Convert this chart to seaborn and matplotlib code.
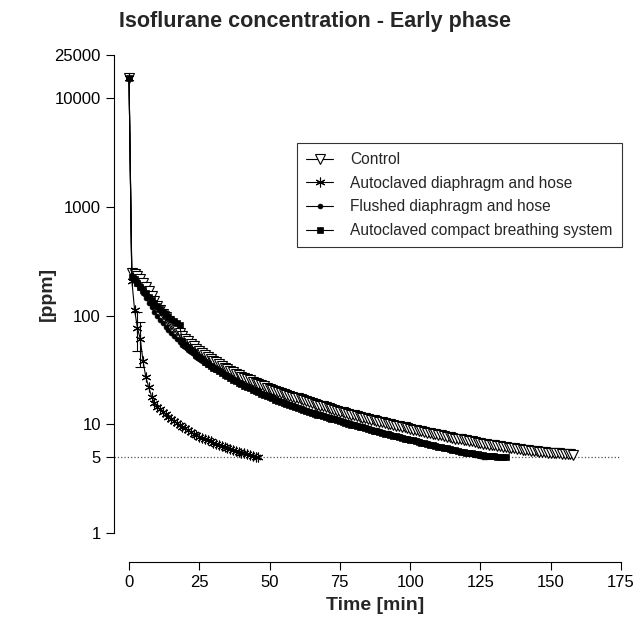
import numpy as np
import pandas as pd
import matplotlib
matplotlib.use("Agg")
import matplotlib.pyplot as plt
import seaborn as sns
from matplotlib.ticker import NullLocator

# Isoflurane concentration [ppm], one reading per minute
control = [15500,
           245, 240, 230, 215, 200, 183, 167, 150, 135, 122,
           112, 104, 97, 90, 84, 79, 74, 69, 65, 61,
           58, 55, 52, 49.5, 47, 45, 43.2, 41.5, 40, 38.5,
           37.1, 35.8, 34.5, 33.3, 32.1, 31, 30, 29.1, 28.3, 27.5,
           26.8, 26.1, 25.4, 24.7, 24, 23.4, 22.9, 22.3, 21.8, 21.3,
           20.9, 20.4, 20, 19.6, 19.2, 18.8, 18.4, 18, 17.6, 17.3,
           17, 16.7, 16.3, 16, 15.7, 15.4, 15.1, 14.8, 14.6, 14.3,
           14.1, 13.8, 13.6, 13.3, 13.1, 12.9, 12.7, 12.5, 12.3, 12.1,
           11.9, 11.7, 11.5, 11.4, 11.2, 11, 10.9, 10.7, 10.6, 10.4,
           10.3, 10.1, 10, 9.85, 9.7, 9.6, 9.45, 9.35, 9.2, 9.1,
           8.95, 8.85, 8.75, 8.6, 8.5, 8.4, 8.3, 8.2, 8.1, 8.0,
           7.9, 7.8, 7.7, 7.6, 7.5, 7.4, 7.35, 7.25, 7.15, 7.1,
           7.0, 6.95, 6.85, 6.8, 6.75, 6.65, 6.6, 6.5, 6.45, 6.4,
           6.35, 6.3, 6.2, 6.15, 6.1, 6.05, 6.0, 5.95, 5.9, 5.85,
           5.8, 5.75, 5.7, 5.7, 5.65, 5.6, 5.6, 5.55, 5.5, 5.5,
           5.45, 5.4, 5.4, 5.35, 5.35, 5.3, 5.3, 5.25]

autoclaved_hose = [15500,
                   210, 112, 77, 61, 38, 27, 22, 18, 15.8, 14.5,
                   13.7, 13, 12.4, 11.8, 11.3, 10.8, 10.3, 9.9, 9.5, 9.2,
                   8.85, 8.5, 8.2, 7.95, 7.7, 7.5, 7.3, 7.1, 6.95, 6.8,
                   6.65, 6.5, 6.35, 6.2, 6.05, 5.9, 5.8, 5.7, 5.6, 5.5,
                   5.4, 5.3, 5.2, 5.15, 5.05, 5.0]

flushed_hose = [15500,
                220, 210, 195, 178, 160, 145, 131, 119, 108, 99,
                91, 85, 79, 74, 69, 65, 61, 57, 54, 51,
                48.5, 46.2, 44, 42, 40, 38.4, 36.9, 35.5, 34.2, 33,
                31.8, 30.7, 29.6, 28.6, 27.6, 26.7, 25.9, 25.1, 24.4, 23.7,
                23, 22.4, 21.8, 21.2, 20.6, 20.1, 19.6, 19.1, 18.6, 18.1,
                17.7, 17.3, 16.9, 16.5, 16.1, 15.8, 15.4, 15.1, 14.8, 14.5,
                14.2, 13.9, 13.6, 13.4, 13.1, 12.9, 12.6, 12.4, 12.2, 12.0,
                11.8, 11.6, 11.4, 11.2, 11.0, 10.8, 10.6, 10.4, 10.2, 10.0,
                9.85, 9.7, 9.55, 9.4, 9.25, 9.1, 8.95, 8.8, 8.65, 8.5,
                8.4, 8.25, 8.1, 8.0, 7.85, 7.75, 7.6, 7.5, 7.4, 7.3,
                7.2, 7.1, 7.0, 6.9, 6.8, 6.7, 6.6, 6.5, 6.4, 6.3,
                6.2, 6.1, 6.05, 5.95, 5.9, 5.8, 5.7, 5.65, 5.55, 5.5,
                5.4, 5.35, 5.25, 5.2, 5.1, 5.05, 5.0]

compact_system = [15500,
                  225, 215, 200, 185, 172, 160, 149, 139, 130, 122,
                  115, 109, 103, 98, 93, 89, 85, 82, 58, 54,
                  51, 48.5, 46, 43.5, 41.5, 39.5, 37.8, 36.2, 34.7, 33.3,
                  32, 30.8, 29.7, 28.6, 27.6, 26.6, 25.7, 24.9, 24.1, 23.4,
                  22.7, 22, 21.4, 20.8, 20.2, 19.7, 19.2, 18.7, 18.2, 17.7,
                  17.3, 16.9, 16.5, 16.1, 15.7, 15.4, 15, 14.7, 14.4, 14.1,
                  13.8, 13.5, 13.3, 13, 12.8, 12.5, 12.3, 12.1, 11.9, 11.7,
                  11.5, 11.3, 11.1, 10.9, 10.7, 10.5, 10.3, 10.1, 9.95, 9.8,
                  9.65, 9.5, 9.35, 9.2, 9.05, 8.9, 8.75, 8.6, 8.5, 8.35,
                  8.2, 8.1, 8.0, 7.85, 7.75, 7.6, 7.5, 7.4, 7.3, 7.2,
                  7.1, 7.0, 6.9, 6.8, 6.7, 6.6, 6.5, 6.4, 6.3, 6.25,
                  6.15, 6.05, 6.0, 5.9, 5.85, 5.75, 5.7, 5.6, 5.55, 5.5,
                  5.45, 5.4, 5.35, 5.3, 5.25, 5.2, 5.15, 5.15, 5.1, 5.1,
                  5.05, 5.05, 5.0, 5.0]

# error bars visible on the autoclaved hose series
err_time = [3, 4]
err_value = [77, 61]
err_size = [30, 27]

threshold = 5
y_ticks = [1, 5, 10, 100, 1000, 10000, 25000]
x_ticks = [0, 25, 50, 75, 100, 125, 150, 175]

sns.set_style("ticks")
plt.rcParams['font.family'] = ['Liberation Sans', 'DejaVu Sans']

fig = plt.figure(figsize=(6.39, 6.2), dpi=100)
ax = fig.add_axes([114 / 639, 1 - 562 / 620, 507 / 639, 507 / 620])

series = [
    ("Control", control, dict(marker='v', markersize=6.5, markerfacecolor='white', markeredgewidth=0.8)),
    ("Autoclaved diaphragm and hose", autoclaved_hose, dict(marker=(6, 2, 0), markersize=7, markeredgewidth=0.8)),
    ("Flushed diaphragm and hose", flushed_hose, dict(marker='o', markersize=3.5, markeredgewidth=0.5)),
    ("Autoclaved compact breathing system", compact_system, dict(marker='s', markersize=5, markeredgewidth=0.5)),
]

for name, values, style in series:
    df = pd.DataFrame({"time": np.arange(len(values)), "ppm": values})
    sns.lineplot(data=df, x="time", y="ppm", ax=ax, color='black', linewidth=0.8,
                 markeredgecolor='black', label=name, estimator=None, **style)

ax.errorbar(err_time, err_value, yerr=err_size, fmt='none', ecolor='black',
            elinewidth=0.8, capsize=3.5, capthick=0.8)
ax.axhline(threshold, color='#555555', linestyle=':', linewidth=0.9, zorder=0)

ax.set_yscale('log')
ax.set_xlim(-5.34, 175)
ax.set_ylim(10 ** (-29 / 108.7), 25000)
ax.set_yticks(y_ticks, labels=[str(v) for v in y_ticks])
ax.yaxis.set_minor_locator(NullLocator())
ax.set_xticks(x_ticks, labels=[str(v) for v in x_ticks])

ax.spines['top'].set_visible(False)
ax.spines['right'].set_visible(False)
ax.spines['left'].set_bounds(1, 25000)
ax.spines['bottom'].set_bounds(0, 175)
for sp in ['left', 'bottom']:
    ax.spines[sp].set_linewidth(0.8)
    ax.spines[sp].set_color('black')
ax.tick_params(axis='both', direction='out', length=6, width=0.8, labelsize=12, colors='black')

ax.set_xlabel("Time [min]", fontsize=14, fontweight='bold')
ax.set_ylabel("[ppm]", fontsize=14, fontweight='bold')
ax.xaxis.set_label_coords((375 - 114) / 507, (562 - 597) / 507)
ax.yaxis.set_label_coords((56 - 114) / 507, (562 - 294) / 507)

fig.text(315 / 639, 1 - 22 / 620, "Isoflurane concentration - Early phase",
         ha='center', va='center', fontsize=15.5, fontweight='bold')

leg = ax.legend(loc='upper left', bbox_to_anchor=(297 / 639, 1 - 143 / 620),
                bbox_transform=fig.transFigure, frameon=True, fancybox=False,
                edgecolor='black', fontsize=11.2, handlelength=1.7, handletextpad=1.1,
                borderpad=0.6, labelspacing=0.55, borderaxespad=0)
leg.get_frame().set_linewidth(0.8)

fig.savefig("out.png", dpi=100)
